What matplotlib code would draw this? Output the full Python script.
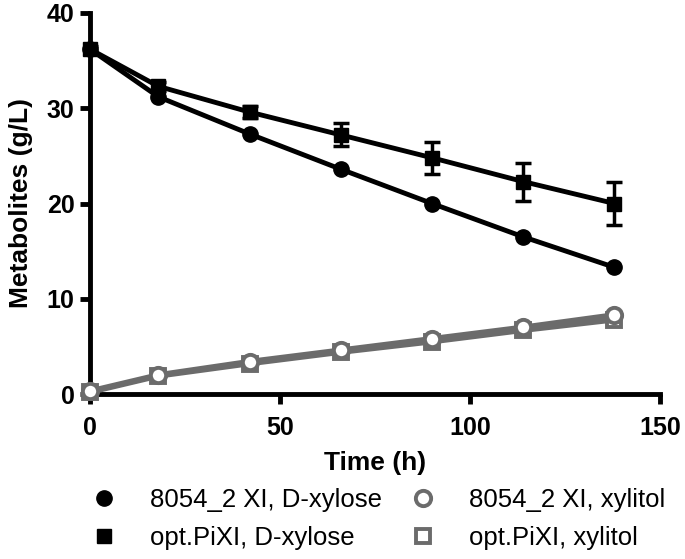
import matplotlib.pyplot as plt
import numpy as np

plt.rcParams['font.family'] = ['Liberation Sans', 'DejaVu Sans']

# time points (h)
time = [0, 18, 42, 66, 90, 114, 138]

# D-xylose (g/L)
xyl_8054 = [36.2, 31.2, 27.3, 23.6, 20.0, 16.5, 13.3]
xyl_opt = [36.2, 32.3, 29.6, 27.2, 24.8, 22.3, 20.0]
xyl_opt_err = [0.3, 0.5, 0.6, 1.2, 1.7, 2.0, 2.3]

# xylitol (g/L)
xol_8054 = [0.3, 2.0, 3.4, 4.6, 5.8, 7.0, 8.3]
xol_opt = [0.2, 1.9, 3.2, 4.4, 5.5, 6.7, 7.8]

labels = ['8054_2 XI, D-xylose', 'opt.PiXI, D-xylose',
          '8054_2 XI, xylitol', 'opt.PiXI, xylitol']

grey = '#6b6b6b'

fig = plt.figure(figsize=[6.85, 5.59], dpi=100)
# axes from x px 90..660, y px 13..394
ax = fig.add_axes([90 / 685, (559 - 394) / 559, 570 / 685, 381 / 559])

ax.plot(time, xyl_8054, 'k-', marker='o', ms=11, lw=3.5, clip_on=False, zorder=4)
ax.errorbar(time, xyl_opt, yerr=xyl_opt_err, fmt='none', ecolor='k',
            elinewidth=2.5, capsize=6, capthick=2.5, zorder=3)
ax.plot(time, xyl_opt, 'k-', marker='s', ms=10.5, lw=3.5, clip_on=False, zorder=4)
ax.plot(time, xol_opt, '-', color=grey, marker='s', ms=10.5, lw=4,
        mfc='white', mec=grey, mew=2.8, clip_on=False, zorder=5)
ax.plot(time, xol_8054, '-', color=grey, marker='o', ms=11, lw=4,
        mfc='white', mec=grey, mew=2.8, clip_on=False, zorder=6)

ax.set_xlim(0, 150)
ax.set_ylim(0, 40)
ax.set_xticks([0, 50, 100, 150])
ax.set_yticks([0, 10, 20, 30, 40])

for s in ['top', 'right']:
    ax.spines[s].set_visible(False)
for s in ['left', 'bottom']:
    ax.spines[s].set_linewidth(3.5)
ax.tick_params(width=3.5, length=7, labelsize=18)
ax.tick_params(axis='x', pad=9)
ax.tick_params(axis='y', pad=4)
for t in ax.get_xticklabels() + ax.get_yticklabels():
    t.set_fontweight('bold')

ax.set_xlabel('Time (h)', fontsize=19, fontweight='bold', labelpad=8)
ax.set_ylabel('Metabolites (g/L)', fontsize=19, fontweight='bold', labelpad=10)

# legend below the axes, two columns
leg_h1, = ax.plot([], [], 'ko', ms=11, ls='none')
leg_h2, = ax.plot([], [], 'ks', ms=10.5, ls='none')
leg_h3, = ax.plot([], [], 'o', ms=11, mfc='white', mec=grey, mew=2.8, ls='none')
leg_h4, = ax.plot([], [], 's', ms=10.5, mfc='white', mec=grey, mew=2.8, ls='none')
fig.legend([leg_h1, leg_h2, leg_h3, leg_h4], labels, ncol=2, frameon=False,
           loc='lower center', bbox_to_anchor=(0.55, -0.025), fontsize=18.5,
           handlelength=1.2, handletextpad=1.2, columnspacing=1.0, labelspacing=0.55)

plt.savefig('out.png', dpi=100)
